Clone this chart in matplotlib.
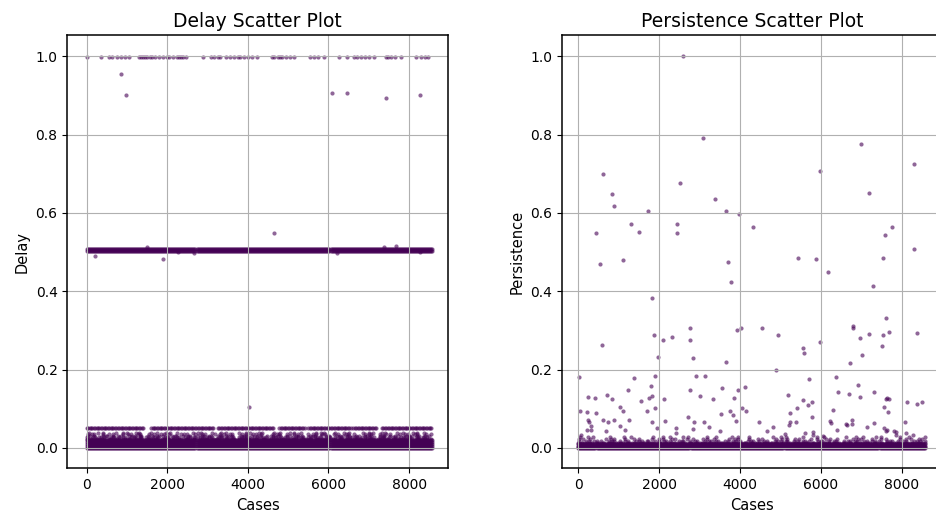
import numpy as np
import matplotlib
matplotlib.use("Agg")
import matplotlib.pyplot as plt

# ---------------- data ----------------
n_cases = 8580                      # case index runs 0 .. n_cases

# Delay: dense clusters (levels drawn over all cases)
delay_base_levels = [0.0, 0.005, 0.010, 0.015, 0.019]
delay_mid_levels = [0.503, 0.507]
delay_speckle_levels = [0.023, 0.027, 0.031, 0.035, 0.039]
delay_speckle_scale = [0.5, 0.7, 0.9, 1.2, 1.6]
delay_row05_value = 0.050
delay_row05_segments = [(0, 1400), (1600, 3150), (3260, 4650), (4780, 5430),
                        (5500, 6550), (6620, 7200), (7330, 8580)]
delay_top_value = 0.997
delay_top_cases = [10, 366, 560, 640, 760, 850, 950, 1050, 1300, 1340, 1400, 1450,
                   1500, 1560, 1620, 1700, 1800, 1900, 2000, 2050, 2150, 2250, 2300,
                   2350, 2400, 2466, 2883, 3091, 3150, 3250, 3300, 3466, 3550, 3650,
                   3750, 3800, 3900, 4000, 4100, 4216, 4591, 4650, 4750, 4800, 4850,
                   4950, 5050, 5133, 5550, 5650, 5750, 5883, 6258, 6466, 6633, 6700,
                   6800, 6900, 7000, 7133, 7425, 7480, 7550, 7650, 7800, 8175, 8300,
                   8400, 8466]
delay_out_cases = [841, 966, 6091, 6450, 7425, 8283,
                   216, 1900, 4658, 1508, 7366, 7675, 6216, 2675, 2258, 8283, 4033]
delay_out_values = [0.954, 0.902, 0.905, 0.905, 0.892, 0.900,
                    0.490, 0.481, 0.549, 0.512, 0.513, 0.515, 0.497, 0.498, 0.500, 0.500, 0.105]

# Persistence: dense band near zero
persist_base_levels = [0.0, 0.003, 0.006, 0.009]
persist_speckle_levels = [0.013, 0.018, 0.023, 0.028]
persist_speckle_scale = [0.4, 0.9, 1.6, 2.5]
persist_out_cases = [2597, 3092, 6992, 8303, 5970, 611, 2515, 834, 7190, 891, 3389, 1732,
                     3661, 3967, 1312, 1493, 446, 2441, 2433, 4313, 7751, 7586, 8303,
                     537, 1113, 3710, 3777, 1831, 578, 1864, 2095, 2318, 2771, 2755, 2837,
                     1963, 3653, 3933, 4024, 17, 1370, 1889, 2919, 3142, 1229, 1798, 2755,
                     3546, 3942, 4123, 248, 405, 702, 842, 1815, 1757, 1559, 2120, 3018,
                     3324, 3852, 35, 215, 438, 1031, 1113, 1707, 1889, 3530, 3760, 3826,
                     4140, 4041, 232, 272, 314, 215, 306, 619, 742, 875, 1254, 1031, 1143,
                     693, 1815, 1947, 2144, 2416, 2424, 2706, 2854, 2829, 3117, 3233, 3505,
                     3901, 59,
                     5434, 5879, 6176, 7529, 7297, 4551, 4932, 5558, 5583, 5971, 4882,
                     6787, 6795, 6967, 7198, 7619, 7693, 7537, 7504, 7025, 6720, 8370,
                     5699, 6382, 6926, 5187, 5566, 5690, 5773, 5402, 5236, 5773, 6416,
                     6688, 6960, 7314, 7600, 7635, 7680, 7561, 7668, 8138, 8370, 8494,
                     6300, 6226, 6240, 4477, 5224, 5212, 5393, 6609, 6640, 6770, 6770,
                     7141, 7306, 7560, 7600, 7640, 8081, 6406, 4660, 4824, 5112, 5607,
                     5813, 5813, 6053, 7800, 7860, 7860, 8286, 8105]
persist_out_values = [1.000, 0.790, 0.776, 0.724, 0.706, 0.698, 0.676, 0.647, 0.651, 0.618,
                      0.636, 0.604, 0.604, 0.597, 0.571, 0.552, 0.548, 0.571, 0.548, 0.563,
                      0.563, 0.544, 0.507,
                      0.469, 0.479, 0.475, 0.423, 0.382, 0.262, 0.289, 0.276, 0.284, 0.305,
                      0.275, 0.230, 0.232, 0.219, 0.300, 0.307, 0.182, 0.179, 0.184, 0.183,
                      0.183, 0.149, 0.159, 0.147, 0.152, 0.148, 0.156, 0.130, 0.127, 0.134,
                      0.125, 0.133, 0.128, 0.119, 0.124, 0.133, 0.125, 0.127, 0.094, 0.092,
                      0.089, 0.105, 0.094, 0.094, 0.102, 0.087, 0.095, 0.084, 0.094, 0.101,
                      0.071, 0.067, 0.057, 0.046, 0.047, 0.071, 0.067, 0.071, 0.071, 0.056,
                      0.045, 0.043, 0.065, 0.050, 0.070, 0.052, 0.039, 0.080, 0.067, 0.048,
                      0.066, 0.054, 0.042, 0.069, 0.033,
                      0.486, 0.483, 0.450, 0.486, 0.413, 0.305, 0.289, 0.254, 0.243, 0.270,
                      0.200, 0.312, 0.306, 0.281, 0.291, 0.332, 0.297, 0.289, 0.261, 0.238,
                      0.216, 0.293, 0.175, 0.181, 0.160, 0.134, 0.122, 0.109, 0.117, 0.101,
                      0.088, 0.078, 0.143, 0.138, 0.129, 0.143, 0.126, 0.128, 0.124, 0.105,
                      0.092, 0.116, 0.112, 0.116, 0.096, 0.068, 0.064, 0.066, 0.066, 0.059,
                      0.065, 0.060, 0.058, 0.072, 0.062, 0.053, 0.063, 0.050, 0.044, 0.046,
                      0.066, 0.046, 0.044, 0.053, 0.036, 0.039, 0.041, 0.034, 0.031, 0.042,
                      0.040, 0.034, 0.033, 0.039]

speckle_gaps = [70, 130, 50, 190, 90, 150, 60, 110, 240, 80, 45, 170, 140, 75, 210, 100]

# ---------------- assemble points ----------------
BAND_STEP = 25


def band(levels, start=0, stop=n_cases, step=BAND_STEP):
    xs, ys = [], []
    for lv in levels:
        c = list(range(start, stop + 1, step))
        xs += c
        ys += [lv] * len(c)
    return xs, ys


def speckle(levels, scales):
    xs, ys = [], []
    for k, (lv, sc) in enumerate(zip(levels, scales)):
        c = 13 * k
        i = 3 * k
        while c <= n_cases:
            xs.append(c)
            ys.append(lv)
            c += speckle_gaps[i % len(speckle_gaps)] * sc
            i += 1
    return xs, ys


dx, dy = [], []
for part in (band(delay_base_levels), band(delay_mid_levels),
             speckle(delay_speckle_levels, delay_speckle_scale)):
    dx += part[0]
    dy += part[1]
for a, b in delay_row05_segments:
    px, py = band([delay_row05_value], a, b, 35)
    dx += px
    dy += py
dx += delay_top_cases
dy += [delay_top_value] * len(delay_top_cases)
dx += delay_out_cases
dy += delay_out_values

qx, qy = [], []
for part in (band(persist_base_levels),
             speckle(persist_speckle_levels, persist_speckle_scale)):
    qx += part[0]
    qy += part[1]
qx += persist_out_cases
qy += persist_out_values

# ---------------- plot ----------------
W, H = 936, 520
fig = plt.figure(figsize=(W / 100, H / 100), dpi=100)
ax1 = fig.add_axes([67.3 / W, (H - 468.3) / H, 381 / W, 433.3 / H])
ax2 = fig.add_axes([561.7 / W, (H - 468.3) / H, 381 / W, 433.3 / H])

color = "#440154"
ax1.scatter(dx, dy, s=9, c=color, alpha=0.6, linewidths=0)
ax2.scatter(qx, qy, s=9, c=color, alpha=0.6, linewidths=0)

ax1.set_title("Delay Scatter Plot", fontsize=13.5)
ax1.set_xlabel("Cases", fontsize=10.5)
ax1.set_ylabel("Delay", fontsize=10.5)
ax2.set_title("Persistence Scatter Plot", fontsize=13.5)
ax2.set_xlabel("Cases", fontsize=10.5)
ax2.set_ylabel("Persistence", fontsize=10.5)

ax1.set_xlim(-481, 8973)
ax2.set_xlim(-411, 9013)
for ax in (ax1, ax2):
    ax.set_ylim(-0.052, 1.054)
    ax.set_xticks([0, 2000, 4000, 6000, 8000])
    ax.set_yticks([0.0, 0.2, 0.4, 0.6, 0.8, 1.0])
    ax.tick_params(labelsize=10)
    ax.grid(True)
    for sp in ax.spines.values():
        sp.set_linewidth(1.1)

fig.savefig("out.png", dpi=100)
